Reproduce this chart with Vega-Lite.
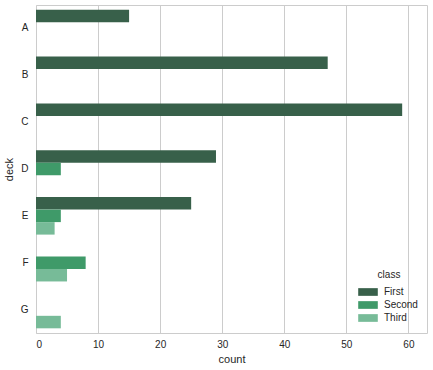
{
  "$schema": "https://vega.github.io/schema/vega-lite/v6.json",
  "width": 391,
  "height": 328,
  "autosize": "none",
  "padding": {"left": 36, "top": 5, "right": 6, "bottom": 37},
  "background": "white",
  "data": {"values": [
    {"deck": "A", "class": "First", "count": 15},
    {"deck": "B", "class": "First", "count": 47},
    {"deck": "C", "class": "First", "count": 59},
    {"deck": "D", "class": "First", "count": 29},
    {"deck": "D", "class": "Second", "count": 4},
    {"deck": "E", "class": "First", "count": 25},
    {"deck": "E", "class": "Second", "count": 4},
    {"deck": "E", "class": "Third", "count": 3},
    {"deck": "F", "class": "Second", "count": 8},
    {"deck": "F", "class": "Third", "count": 5},
    {"deck": "G", "class": "Third", "count": 4}
  ]},
  "mark": {"type": "bar"},
  "encoding": {
    "y": {"field": "deck", "type": "nominal", "sort": ["A","B","C","D","E","F","G"],
          "scale": {"paddingInner": 0.2, "paddingOuter": 0.1},
          "axis": {"title": "deck", "grid": false, "ticks": false, "domain": false, "labelPadding": 8, "titlePadding": 6}},
    "yOffset": {"field": "class", "type": "nominal", "sort": ["First","Second","Third"], "scale": {"paddingInner": 0, "paddingOuter": 0}},
    "x": {"field": "count", "type": "quantitative", "scale": {"domain": [0, 63], "nice": false},
          "axis": {"title": "count", "values": [0,10,20,30,40,50,60], "grid": true, "ticks": false, "domain": false, "labelPadding": 6, "titlePadding": 4}},
    "color": {"field": "class", "type": "nominal", "sort": ["First","Second","Third"],
              "scale": {"domain": ["First","Second","Third"], "range": ["#38604a", "#3f9a69", "#77bb98"]},
              "legend": {"title": "class", "orient": "none", "legendX": 325, "legendY": 265, "titleAnchor": "middle", "symbolType": "M-1.4,-0.55H1.4V0.55H-1.4Z", "symbolSize": 196, "symbolStrokeWidth": 0, "rowPadding": 1, "titlePadding": 5, "labelOffset": 9}}
  },
  "config": {
    "font": "Liberation Sans",
    "view": {"stroke": "#cccccc", "strokeWidth": 1},
    "axis": {"labelFont": "Liberation Sans", "labelFontSize": 10, "labelColor": "#262626", "titleFont": "Liberation Sans", "titleFontSize": 11, "titleFontWeight": "normal", "titleColor": "#262626", "gridColor": "#cccccc", "gridWidth": 1},
    "legend": {"labelFont": "Liberation Sans", "labelFontSize": 10, "labelColor": "#262626", "titleFont": "Liberation Sans", "titleFontSize": 10, "titleFontWeight": "normal", "titleColor": "#262626"}
  }
}
